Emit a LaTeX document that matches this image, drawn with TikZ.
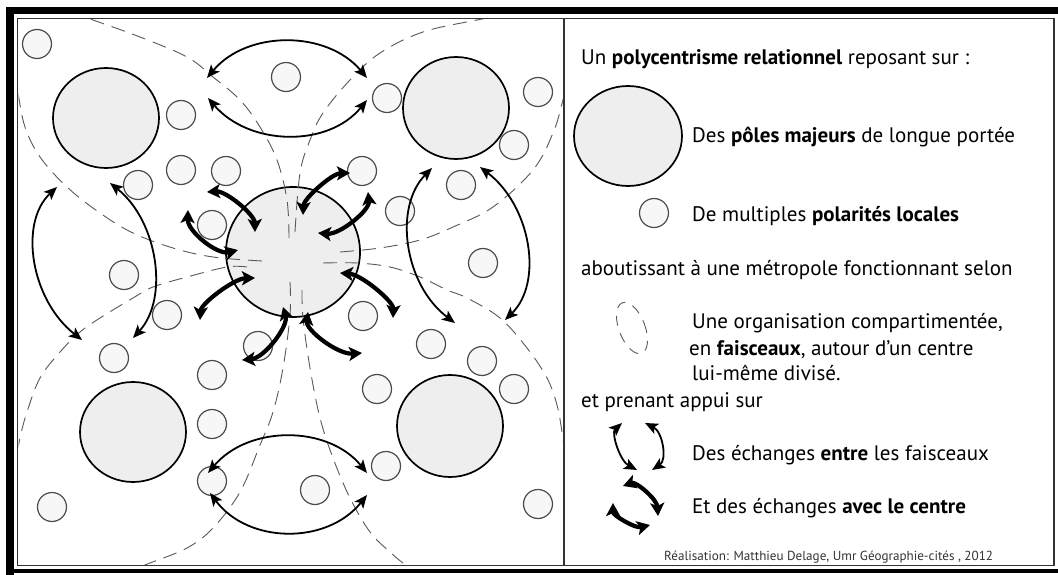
\documentclass[tikz,border=0pt]{standalone}
\usepackage{fontspec}
\setmainfont{PT Sans}
\usetikzlibrary{arrows.meta,shapes.geometric}
\begin{document}
\begin{tikzpicture}[x=1pt,y=-1pt,
  bigpole/.style={ellipse, draw=black, line width=1.7pt, fill=gray!13, inner sep=0pt},
  localpole/.style={circle, draw=black!70, line width=1.2pt, fill=gray!6, minimum size=29pt, inner sep=0pt},
  petal/.style={draw=black!65, line width=0.9pt, dash pattern=on 14pt off 8pt},
  xarrow/.style={line width=1.8pt, {Stealth[length=13pt,width=11pt,inset=3pt]}-{Stealth[length=13pt,width=11pt,inset=3pt]}},
  carrow/.style={line width=4.2pt, {Stealth[length=13pt,width=14pt,inset=3pt]}-{Stealth[length=13pt,width=14pt,inset=3pt]}},
  legtext/.style={anchor=base west, inner sep=0pt, font=\fontsize{21}{24}\selectfont},
  credit/.style={anchor=base west, inner sep=0pt, font=\fontsize{13.1}{15}\selectfont, text=black!80},
]
\useasboundingbox (0,0) rectangle (1058,575);
\fill[white] (0,0) rectangle (1058,575);
% frame
\fill[black] (6,7) rectangle (1058,14);
\fill[black] (6,7) rectangle (14,575);
\fill[black] (14,569) rectangle (1058,573);
\draw[line width=1.5pt, black!80] (17.5,18.5) rectangle (1054,565.5);
\draw[line width=1.5pt, black!80] (564,18.5) -- (564,565.5);

% major poles
\node[bigpole, minimum width=106pt, minimum height=100pt] (ptl) at (106,118) {};
\node[bigpole, minimum width=106pt, minimum height=102pt] (ptr) at (456,108) {};
\node[bigpole, minimum width=106pt, minimum height=100pt] (pbl) at (133,432) {};
\node[bigpole, minimum width=106pt, minimum height=102pt] (pbr) at (450,426) {};
\node[bigpole, minimum width=134pt, minimum height=130pt] (pc) at (293,252) {};

% local poles
\foreach \px/\py [count=\i] in {37/44, 181/115, 286/77, 387/98, 538/92, 514/145, 181/170, 226/171, 138/185, 362/171, 461/185, 212/225, 400/211, 124/275, 483/263, 167/315, 258/346, 363/316, 114/358, 212/375, 431/344, 482/361, 377/389, 514/389, 212/424, 386/466, 212/481, 315/490, 52/507, 538/504}
  \node[localpole] (l\i) at (\px,\py) {};

% faisceaux (dashed petals)
\begin{scope}
\clip (18.5,19.5) rectangle (563,564.5);
\draw[petal] plot[smooth, tension=0.6] coordinates {(262,261) (213,257) (173,248) (133,233) (100,213) (67,187) (40,157) (25,127) (18,93) (14,70)};
\draw[petal] plot[smooth, tension=0.6] coordinates {(289,238) (287,200) (277,160) (260,127) (240,100) (213,77) (187,57) (140,37) (93,20) (70,12)};
\draw[petal] plot[smooth, tension=0.6] coordinates {(295,232) (300,173) (310,140) (323,113) (350,80) (380,53) (423,32) (477,20) (520,12)};
\draw[petal] plot[smooth, tension=0.6] coordinates {(340,252) (380,248) (420,240) (453,227) (493,207) (533,170) (553,133) (563,100) (570,70)};
\draw[petal] plot[smooth, tension=0.6] coordinates {(247,267) (227,267) (187,277) (153,287) (133,298) (100,318) (80,332) (60,352) (40,378) (27,412) (20,438) (14,470)};
\draw[petal] plot[smooth, tension=0.6] coordinates {(290,282) (290,315) (283,368) (273,412) (260,445) (240,492) (213,528) (187,548) (150,563) (120,575)};
\draw[petal] plot[smooth, tension=0.6] coordinates {(302,290) (303,318) (310,368) (320,418) (333,458) (350,498) (370,532) (390,552) (407,566) (430,580)};
\draw[petal] plot[smooth, tension=0.6] coordinates {(323,263) (357,263) (390,267) (420,277) (447,290) (467,298) (500,318) (527,348) (547,378) (557,405) (562,432) (566,460)};
\end{scope}

% exchanges between faisceaux
\coordinate (a1s) at (207,78);  \coordinate (a1e) at (367,78);
\coordinate (a2s) at (208,98);  \coordinate (a2e) at (367,100);
\coordinate (a3s) at (57,187);  \coordinate (a3e) at (82,340);
\coordinate (a4s) at (110,183); \coordinate (a4e) at (133,338);
\coordinate (a5s) at (432,168); \coordinate (a5e) at (455,323);
\coordinate (a6s) at (480,167); \coordinate (a6e) at (505,320);
\coordinate (a7s) at (208,473); \coordinate (a7e) at (367,473);
\coordinate (a8s) at (210,493); \coordinate (a8e) at (367,495);
\draw[xarrow] (a1s) .. controls (247,30) and (327,30) .. (a1e);
\draw[xarrow] (a2s) .. controls (249,146) and (328,148) .. (a2e);
\draw[xarrow] (a3s) .. controls (18.5,223) and (31,300) .. (a3e);
\draw[xarrow] (a4s) .. controls (157.75,221) and (169.25,298.5) .. (a4e);
\draw[xarrow] (a5s) .. controls (393,207.5) and (404.5,285) .. (a5e);
\draw[xarrow] (a6s) .. controls (531,206) and (543.5,282.5) .. (a6e);
\draw[xarrow] (a7s) .. controls (248.5,425) and (328,425) .. (a7e);
\draw[xarrow] (a8s) .. controls (248,544) and (327,545) .. (a8e);

% exchanges with the centre
\coordinate (c1s) at (207,192); \coordinate (c1e) at (255,232);
\coordinate (c2s) at (188,210); \coordinate (c2e) at (238,250);
\coordinate (c3s) at (350,173); \coordinate (c3e) at (303,215);
\coordinate (c4s) at (368,192); \coordinate (c4e) at (318,233);
\coordinate (c5s) at (255,278); \coordinate (c5e) at (200,320);
\coordinate (c6s) at (283,307); \coordinate (c6e) at (242,360);
\coordinate (c7s) at (340,273); \coordinate (c7e) at (393,318);
\coordinate (c8s) at (308,312); \coordinate (c8e) at (362,353);
\draw[carrow] (c1s) .. controls (226,190.7) and (254.7,214.7) .. (c1e);
\draw[carrow] (c2s) .. controls (187.3,231.3) and (217.3,255.3) .. (c2e);
\draw[carrow] (c3s) .. controls (331.9,173.4) and (303.7,198.6) .. (c3e);
\draw[carrow] (c4s) .. controls (370,210.2) and (340,234.8) .. (c4e);
\draw[carrow] (c5s) .. controls (234,278.4) and (201,303.6) .. (c5e);
\draw[carrow] (c6s) .. controls (288.8,326.3) and (264.2,358.1) .. (c6e);
\draw[carrow] (c7s) .. controls (361.9,274.7) and (393.7,301.7) .. (c7e);
\draw[carrow] (c8s) .. controls (305.5,330.2) and (337.9,354.8) .. (c8e);

% legend
\node[legtext] (t1) at (581,65) {Un \textbf{polycentrisme relationnel} reposant sur :};
\node[bigpole, minimum width=108pt, minimum height=100pt] (lgbig) at (628,136) {};
\node[legtext] (t2) at (692,143) {Des \textbf{pôles majeurs} de longue portée};
\node[localpole] (lgsmall) at (654,213) {};
\node[legtext] (t3) at (692,222) {De multiples \textbf{polarités locales}};
\node[legtext] (t4) at (581,275) {aboutissant à une métropole fonctionnant selon};
\draw[petal, dash pattern=on 10pt off 8pt, rotate around={21:(632,328)}] (632,328) ellipse [x radius=13, y radius=27];
\node[legtext] (t5) at (692,328) {Une organisation compartimentée,};
\node[legtext] (t6) at (689,355) {en \textbf{faisceaux}, autour d’un centre};
\node[legtext] (t7) at (692,380) {lui-même divisé.};
\node[legtext] (t8) at (581,407) {et prenant appui sur};
\coordinate (lx1s) at (622,423); \coordinate (lx1e) at (637,470);
\coordinate (lx2s) at (645,423); \coordinate (lx2e) at (652,470);
\draw[xarrow] (lx1s) .. controls (611,433) and (620,461) .. (lx1e);
\draw[xarrow] (lx2s) .. controls (662.6,431.7) and (667.4,459.9) .. (lx2e);
\node[legtext] (t9) at (692,460) {Des échanges \textbf{entre} les faisceaux};
\coordinate (lc1s) at (623,486); \coordinate (lc1e) at (658,516);
\coordinate (lc2s) at (613,503); \coordinate (lc2e) at (650,525);
\draw[carrow] (lc1s) .. controls (636,481.3) and (657,499.3) .. (lc1e);
\draw[carrow] (lc2s) .. controls (613.1,515.4) and (635.3,528.6) .. (lc2e);
\node[legtext] (t10) at (692,513) {Et des échanges \textbf{avec le centre}};
\node[credit] (t11) at (664,560) {Réalisation: Matthieu Delage, Umr Géographie-cités , 2012};
\end{tikzpicture}
\end{document}
